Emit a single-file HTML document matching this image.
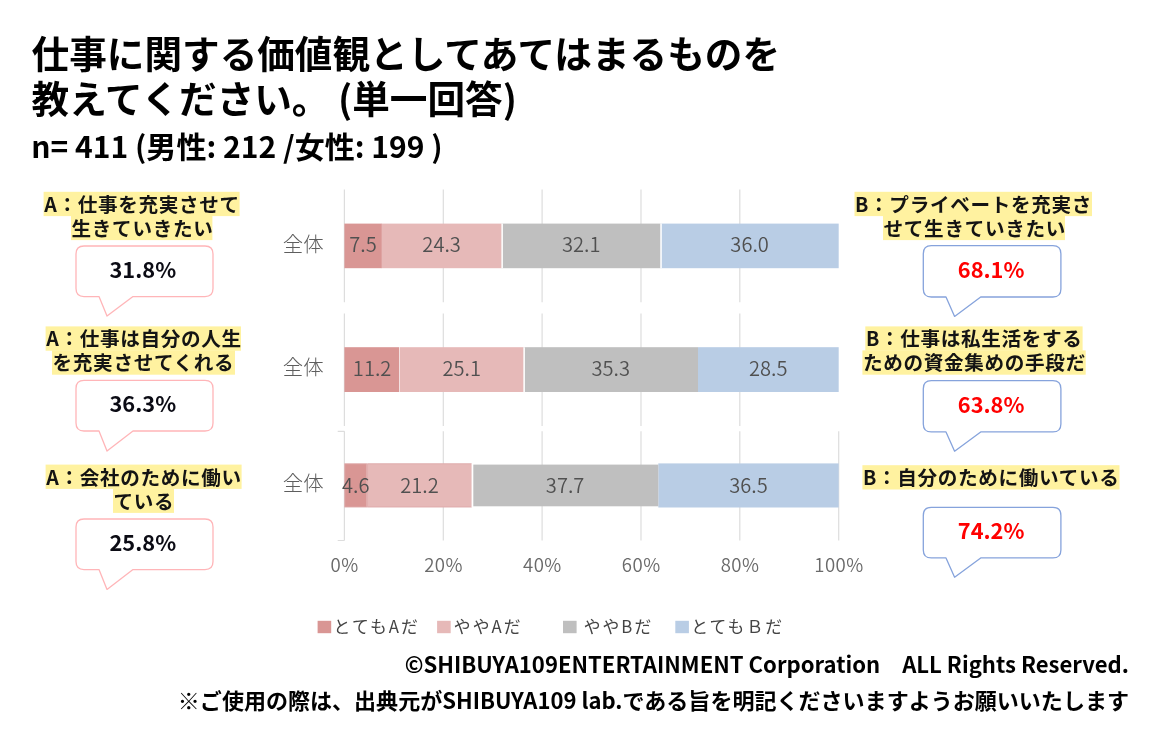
<!DOCTYPE html>
<html lang="ja"><head><meta charset="utf-8"><title>仕事に関する価値観</title>
<style>
html,body{margin:0;padding:0;background:#fff;}
body{width:1160px;height:750px;overflow:hidden;position:relative;font-family:"Noto Sans CJK JP", "Liberation Sans", sans-serif;}
svg{position:absolute;left:0;top:0;display:block;}
svg text{font-family:"Noto Sans CJK JP", "Liberation Sans", sans-serif;}
.t{font-weight:700;fill:#000;}
.lab{font-weight:700;fill:#141414;font-size:19.6px;letter-spacing:0.67px;}
.pa{font-weight:700;fill:#0b0b14;font-size:21.8px;}
.pb{font-weight:700;fill:#ff0000;font-size:21.8px;}
.c{font-weight:350;fill:#505050;font-size:20.1px;}
.ax{font-weight:350;fill:#6a6a6a;font-size:18.6px;letter-spacing:0.5px;}
.cat{font-weight:300;fill:#5e5e5e;font-size:20.4px;}
.lg{font-weight:400;fill:#444;font-size:16.8px;letter-spacing:2.05px;}
</style></head><body>
<svg width="1160" height="750" viewBox="0 0 1160 750">
<rect x="0" y="0" width="1160" height="750" fill="#ffffff"/>
<text class="t" x="31.6" y="68" font-size="37.62">仕事に関する価値観としてあてはまるものを</text>
<text class="t" x="31.6" y="113.4" font-size="37.62">教えてください。 (単一回答)</text>
<text class="t" x="31.2" y="158" font-size="30.05">n= 411 (男性: 212 /女性: 199 )</text>
<line x1="344.4" y1="189.5" x2="344.4" y2="302.3" stroke="#dddddd" stroke-width="1.2"/>
<line x1="443.3" y1="189.5" x2="443.3" y2="302.3" stroke="#dddddd" stroke-width="1.2"/>
<line x1="542.1" y1="189.5" x2="542.1" y2="302.3" stroke="#dddddd" stroke-width="1.2"/>
<line x1="641.0" y1="189.5" x2="641.0" y2="302.3" stroke="#dddddd" stroke-width="1.2"/>
<line x1="739.8" y1="189.5" x2="739.8" y2="302.3" stroke="#dddddd" stroke-width="1.2"/>
<rect x="660.6" y="223.6" width="178.1" height="44.6" fill="#b9cde5"/>
<rect x="501.7" y="223.6" width="158.8" height="44.6" fill="#bfbfbf"/>
<rect x="381.5" y="223.6" width="120.2" height="44.6" fill="#e6b9b8"/>
<rect x="344.4" y="223.6" width="37.4" height="44.6" fill="#d99694"/>
<line x1="502.2" y1="223.6" x2="502.2" y2="268.2" stroke="#fff" stroke-width="1.4"/>
<line x1="661.1" y1="223.6" x2="661.1" y2="268.2" stroke="#fff" stroke-width="1.4"/>
<text class="c" x="363.0" y="251.8" text-anchor="middle">7.5</text>
<text class="c" x="441.6" y="251.8" text-anchor="middle">24.3</text>
<text class="c" x="581.2" y="251.8" text-anchor="middle">32.1</text>
<text class="c" x="749.6" y="251.8" text-anchor="middle">36.0</text>
<text class="cat" x="323.6" y="251.5" text-anchor="end">全体</text>
<line x1="344.4" y1="313.6" x2="344.4" y2="426.0" stroke="#dddddd" stroke-width="1.2"/>
<line x1="443.3" y1="313.6" x2="443.3" y2="426.0" stroke="#dddddd" stroke-width="1.2"/>
<line x1="542.1" y1="313.6" x2="542.1" y2="426.0" stroke="#dddddd" stroke-width="1.2"/>
<line x1="641.0" y1="313.6" x2="641.0" y2="426.0" stroke="#dddddd" stroke-width="1.2"/>
<line x1="739.8" y1="313.6" x2="739.8" y2="426.0" stroke="#dddddd" stroke-width="1.2"/>
<rect x="698.0" y="347.2" width="140.7" height="44.8" fill="#b9cde5"/>
<rect x="523.7" y="347.2" width="174.3" height="44.8" fill="#bfbfbf"/>
<rect x="399.7" y="347.2" width="123.9" height="44.8" fill="#e6b9b8"/>
<rect x="344.4" y="347.2" width="54.7" height="44.8" fill="#d99694"/>
<line x1="524.2" y1="347.2" x2="524.2" y2="392.0" stroke="#fff" stroke-width="1.4"/>
<text class="c" x="372.1" y="375.5" text-anchor="middle">11.2</text>
<text class="c" x="461.7" y="375.5" text-anchor="middle">25.1</text>
<text class="c" x="610.8" y="375.5" text-anchor="middle">35.3</text>
<text class="c" x="768.3" y="375.5" text-anchor="middle">28.5</text>
<text class="cat" x="323.6" y="375.2" text-anchor="end">全体</text>
<line x1="344.4" y1="431.3" x2="344.4" y2="540.5" stroke="#dddddd" stroke-width="1.2"/>
<line x1="443.3" y1="431.3" x2="443.3" y2="540.5" stroke="#dddddd" stroke-width="1.2"/>
<line x1="542.1" y1="431.3" x2="542.1" y2="540.5" stroke="#dddddd" stroke-width="1.2"/>
<line x1="641.0" y1="431.3" x2="641.0" y2="540.5" stroke="#dddddd" stroke-width="1.2"/>
<line x1="739.8" y1="431.3" x2="739.8" y2="540.5" stroke="#dddddd" stroke-width="1.2"/>
<line x1="838.7" y1="431.3" x2="838.7" y2="540.5" stroke="#dddddd" stroke-width="1.2"/>
<path d="M337.7 431.3 H344.4 M337.7 540.5 H344.4" stroke="#dddddd" stroke-width="1.2" fill="none"/>
<rect x="658.3" y="463.4" width="180.4" height="44.1" fill="#b9cde5"/>
<rect x="471.9" y="464.6" width="186.4" height="41.7" fill="#bfbfbf"/>
<rect x="367.6" y="463.8" width="103.9" height="43.2" fill="#e6b9b8" stroke="#dea8a8" stroke-width="0.9"/>
<rect x="344.8" y="463.8" width="21.8" height="43.2" fill="#d99694" stroke="#dea8a8" stroke-width="0.9"/>
<line x1="472.4" y1="463.4" x2="472.4" y2="507.5" stroke="#fff" stroke-width="1.8"/>
<text class="c" x="355.8" y="492.5" text-anchor="middle">4.6</text>
<text class="c" x="419.5" y="492.5" text-anchor="middle">21.2</text>
<text class="c" x="565.1" y="492.5" text-anchor="middle">37.7</text>
<text class="c" x="748.5" y="492.5" text-anchor="middle">36.5</text>
<text class="cat" x="323.6" y="491.0" text-anchor="end">全体</text>
<text class="ax" x="344.7" y="572.2" text-anchor="middle">0%</text>
<text class="ax" x="443.6" y="572.2" text-anchor="middle">20%</text>
<text class="ax" x="542.4" y="572.2" text-anchor="middle">40%</text>
<text class="ax" x="641.3" y="572.2" text-anchor="middle">60%</text>
<text class="ax" x="740.1" y="572.2" text-anchor="middle">80%</text>
<text class="ax" x="839.0" y="572.2" text-anchor="middle">100%</text>
<rect x="317.6" y="620.8" width="13.6" height="12.4" fill="#d99694"/>
<text class="lg" x="333.6" y="632.9">とてもAだ</text>
<rect x="437.1" y="620.8" width="13.6" height="12.4" fill="#e6b9b8"/>
<text class="lg" x="453.8" y="632.9">ややAだ</text>
<rect x="563.0" y="620.8" width="13.6" height="12.4" fill="#bfbfbf"/>
<text class="lg" x="583.7" y="632.9">ややBだ</text>
<rect x="675.3" y="620.8" width="13.6" height="12.4" fill="#b9cde5"/>
<text class="lg" x="691.3" y="632.9">とてもＢだ</text>
<text class="t" x="1129" y="672.9" font-size="22.085" text-anchor="end" xml:space="preserve">©SHIBUYA109ENTERTAINMENT Corporation　ALL Rights Reserved.</text>
<text class="t" x="1129" y="708.9" font-size="22.04" text-anchor="end">※ご使用の際は、出典元がSHIBUYA109 lab.である旨を明記くださいますようお願いいたします</text>
<rect x="43.6" y="191.8" width="196.0" height="24.3" fill="#fff2a0"/>
<rect x="71.0" y="215.8" width="141.4" height="24.3" fill="#fff2a0"/>
<text class="lab" x="44.2" y="211.8">A：仕事を充実させて</text>
<text class="lab" x="71.6" y="235.8">生きていきたい</text>
<path d="M84.0 246.0 H205.0 Q213.0 246.0 213.0 254.0 V288.6 Q213.0 296.6 205.0 296.6 H133.0 L107.0 316.0 L99.0 296.6 H84.0 Q76.0 296.6 76.0 288.6 V254.0 Q76.0 246.0 84.0 246.0 Z" fill="#fff" stroke="#ffb5b8" stroke-width="1.3" stroke-linejoin="round"/>
<text class="pa" x="142.8" y="277.5" text-anchor="middle">31.8%</text>
<rect x="45.6" y="326.4" width="195.4" height="24.3" fill="#fff2a0"/>
<rect x="52.0" y="350.4" width="183.0" height="24.3" fill="#fff2a0"/>
<text class="lab" x="46.2" y="346.4">A：仕事は自分の人生</text>
<text class="lab" x="52.6" y="370.4">を充実させてくれる</text>
<path d="M84.0 380.4 H205.0 Q213.0 380.4 213.0 388.4 V423.0 Q213.0 431.0 205.0 431.0 H133.0 L107.0 451.0 L99.0 431.0 H84.0 Q76.0 431.0 76.0 423.0 V388.4 Q76.0 380.4 84.0 380.4 Z" fill="#fff" stroke="#ffb5b8" stroke-width="1.3" stroke-linejoin="round"/>
<text class="pa" x="142.8" y="411.9" text-anchor="middle">36.3%</text>
<rect x="45.6" y="464.6" width="196.0" height="24.3" fill="#fff2a0"/>
<rect x="113.0" y="488.6" width="61.0" height="24.3" fill="#fff2a0"/>
<text class="lab" x="46.2" y="484.6">A：会社のために働い</text>
<text class="lab" x="113.6" y="508.6">ている</text>
<path d="M84.0 519.0 H205.0 Q213.0 519.0 213.0 527.0 V561.6 Q213.0 569.6 205.0 569.6 H133.0 L107.0 589.4 L99.0 569.6 H84.0 Q76.0 569.6 76.0 561.6 V527.0 Q76.0 519.0 84.0 519.0 Z" fill="#fff" stroke="#ffb5b8" stroke-width="1.3" stroke-linejoin="round"/>
<text class="pa" x="142.8" y="550.5" text-anchor="middle">25.8%</text>
<rect x="854.5" y="191.8" width="237.5" height="24.3" fill="#fff2a0"/>
<rect x="883.0" y="215.8" width="182.0" height="24.3" fill="#fff2a0"/>
<text class="lab" x="855.1" y="211.8">B：プライベートを充実さ</text>
<text class="lab" x="883.6" y="235.8">せて生きていきたい</text>
<path d="M931.3 245.7 H1052.9 Q1060.9 245.7 1060.9 253.7 V289.0 Q1060.9 297.0 1052.9 297.0 H980.7 L954.6 316.4 L946.0 297.0 H931.3 Q923.3 297.0 923.3 289.0 V253.7 Q923.3 245.7 931.3 245.7 Z" fill="#fff" stroke="#86a3dc" stroke-width="1.3" stroke-linejoin="round"/>
<text class="pb" x="991.1" y="277.6" text-anchor="middle">68.1%</text>
<rect x="865.3" y="326.4" width="217.3" height="24.3" fill="#fff2a0"/>
<rect x="862.4" y="350.4" width="223.3" height="24.3" fill="#fff2a0"/>
<text class="lab" x="865.9" y="346.4">B：仕事は私生活をする</text>
<text class="lab" x="863.0" y="370.4">ための資金集めの手段だ</text>
<path d="M931.3 380.7 H1052.9 Q1060.9 380.7 1060.9 388.7 V423.9 Q1060.9 431.9 1052.9 431.9 H980.7 L954.6 451.2 L946.0 431.9 H931.3 Q923.3 431.9 923.3 423.9 V388.7 Q923.3 380.7 931.3 380.7 Z" fill="#fff" stroke="#86a3dc" stroke-width="1.3" stroke-linejoin="round"/>
<text class="pb" x="991.1" y="412.5" text-anchor="middle">63.8%</text>
<rect x="862.4" y="465.2" width="257.1" height="24.3" fill="#fff2a0"/>
<text class="lab" x="863.0" y="485.2">B：自分のために働いている</text>
<path d="M931.3 507.4 H1052.9 Q1060.9 507.4 1060.9 515.4 V549.9 Q1060.9 557.9 1052.9 557.9 H980.7 L954.6 577.2 L946.0 557.9 H931.3 Q923.3 557.9 923.3 549.9 V515.4 Q923.3 507.4 931.3 507.4 Z" fill="#fff" stroke="#86a3dc" stroke-width="1.3" stroke-linejoin="round"/>
<text class="pb" x="991.1" y="538.9" text-anchor="middle">74.2%</text>
</svg></body></html>
